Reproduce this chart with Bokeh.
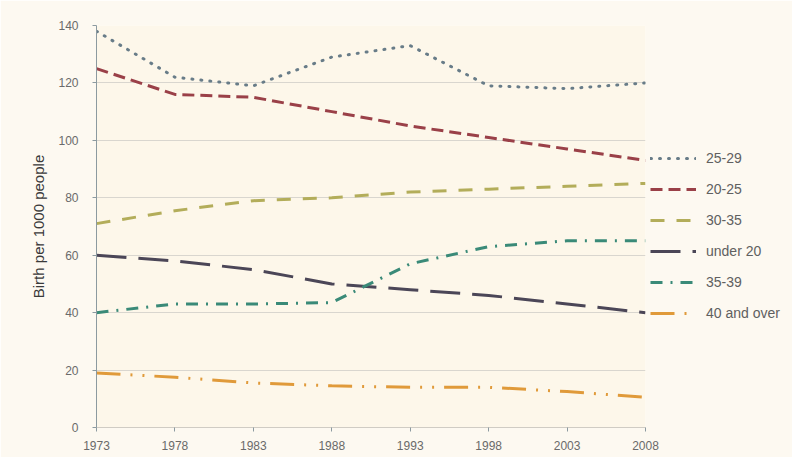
from bokeh.plotting import figure
from bokeh.models import Legend, LegendItem, FixedTicker, Range1d
from bokeh.embed import file_html
from bokeh.resources import INLINE

years = [1973, 1978, 1983, 1988, 1993, 1998, 2003, 2008]
year_labels = ["1973", "1978", "1983", "1988", "1993", "1998", "2003", "2008"]
y_ticks = [0, 20, 40, 60, 80, 100, 120, 140]

age_25_29 = [138, 122, 119, 129, 133, 119, 118, 120]
age_20_25 = [125, 116, 115, 110, 105, 101, 97, 93]
age_30_35 = [71, 75.5, 79, 80, 82, 83, 84, 85]
under_20 = [60, 58, 55, 50, 48, 46, 43, 40]
age_35_39 = [40, 43, 43, 43.5, 57, 63, 65, 65]
age_40_over = [19, 17.5, 15.5, 14.5, 14, 14, 12.5, 10.5]

series = [
    ("25-29", age_25_29, "#687c88", "1 8", "round"),
    ("20-25", age_20_25, "#9a4048", "12 6", "butt"),
    ("30-35", age_30_35, "#b3ad5a", "14 12", "butt"),
    ("under 20", under_20, "#4b4657", "30 12", "butt"),
    ("35-39", age_35_39, "#3a8a78", "12 8 2 8", "butt"),
    ("40 and over", age_40_over, "#e09a3a", "24 10 2 10 2 10", "butt"),
]

p = figure(frame_width=549, frame_height=402, output_backend="svg", toolbar_location=None,
           x_range=Range1d(1973, 2008), y_range=Range1d(0, 140),
           min_border_left=96, min_border_top=25, min_border_bottom=30,
           min_border_right=10)
p.background_fill_color = "#fdf7ea"
p.border_fill_color = "#fdf9f1"
p.outline_line_color = None

p.xgrid.grid_line_color = None
p.ygrid.grid_line_color = "#d9d6cf"
p.ygrid.ticker = FixedTicker(ticks=y_ticks)

p.xaxis.ticker = FixedTicker(ticks=years)
p.xaxis.major_label_overrides = {y: l for y, l in zip(years, year_labels)}
p.yaxis.ticker = FixedTicker(ticks=y_ticks)

for ax in (p.xaxis[0], p.yaxis[0]):
    ax.axis_line_color = "#8c9aa0"
    ax.major_tick_line_color = "#8c9aa0"
    ax.minor_tick_line_color = None
    ax.major_tick_in = 0
    ax.major_tick_out = 4
    ax.major_label_text_font = "Liberation Sans"
    ax.major_label_text_font_size = "12px"
    ax.major_label_text_color = "#6a6a6a"
p.xaxis.axis_line_color = "#d0ccc4"
p.xaxis.major_label_standoff = 9
p.yaxis.major_label_standoff = 14

p.yaxis.axis_label = "Birth per 1000 people"
p.yaxis.axis_label_text_font = "Liberation Sans"
p.yaxis.axis_label_text_font_size = "15px"
p.yaxis.axis_label_text_font_style = "normal"
p.yaxis.axis_label_text_color = "#3a3a3a"
p.yaxis.axis_label_standoff = 8

items = []
for name, vals, color, dash, cap in series:
    r = p.line(years, vals, line_color=color, line_width=3, line_dash=dash,
               line_cap=cap)
    items.append(LegendItem(label=name, renderers=[r]))

legend = Legend(items=items, location=(5, 104))
legend.background_fill_alpha = 0
legend.border_line_color = None
legend.padding = 0
legend.margin = 0
legend.glyph_width = 46
legend.glyph_height = 20
legend.label_height = 20
legend.spacing = 11
legend.label_standoff = 10
legend.label_text_font = "Liberation Sans"
legend.label_text_font_size = "14px"
legend.label_text_color = "#606060"
p.add_layout(legend, "right")

open("out.html", "w").write(file_html(p, INLINE))
